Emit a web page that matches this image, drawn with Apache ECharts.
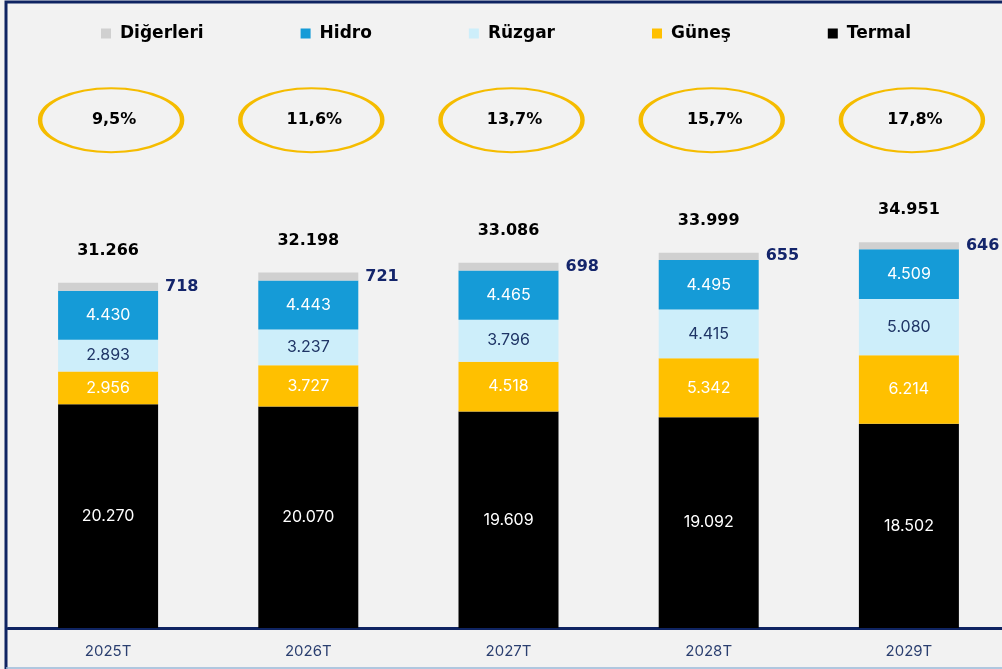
<!DOCTYPE html>
<html>
<head>
<meta charset="utf-8">
<script src="https://cdn.jsdelivr.net/npm/echarts@6/dist/echarts.min.js"></script>
<style>
  html, body { margin: 0; padding: 0; background: #f2f2f2; }
  #chart { width: 1002px; height: 669px; }
</style>
</head>
<body>
<div id="chart"></div>
<script>
// veriler
var years = ['2025T', '2026T', '2027T', '2028T', '2029T'];
var termal = [20270, 20070, 19609, 19092, 18502];
var gunes = [2956, 3727, 4518, 5342, 6214];
var ruzgar = [2893, 3237, 3796, 4415, 5080];
var hidro = [4430, 4443, 4465, 4495, 4509];
var digerleri = [718, 721, 698, 655, 646];
var totals = [31266, 32198, 33086, 33999, 34951];
var shares = ['9,5%', '11,6%', '13,7%', '15,7%', '17,8%'];

var navy = '#0f2462';
var ellipseRow = 92; // gizli eksende elips satiri

// binlik ayirici nokta
function fmt(n) {
    var s = String(n), out = '';
    while (s.length > 3) {
        out = '.' + s.slice(-3) + out;
        s = s.slice(0, s.length - 3);
    }
    return s + out;
}

var chart = echarts.init(document.getElementById('chart'));

function seg(name, data, color, labelColor) {
    return {
        name: name,
        type: 'bar',
        stack: 'total',
        barWidth: 100,
        data: data,
        itemStyle: {color: color},
        label: {
            show: true,
            position: 'inside',
            color: labelColor,
            fontFamily: 'Inter',
            fontSize: 16,
            formatter: function (p) { return fmt(p.value); }
        }
    };
}

var option = {
    backgroundColor: '#f2f2f2',
    animation: false,
    legend: {
        data: ['Diğerleri', 'Hidro', 'Rüzgar', 'Güneş', 'Termal'],
        left: 96,
        top: 20,
        itemWidth: 10,
        itemHeight: 10,
        itemGap: 97,
        icon: 'rect',
        textStyle: {
            color: '#000',
            fontFamily: 'DejaVu Sans',
            fontWeight: 'bold',
            fontSize: 17,
            padding: [0, 0, 0, 4]
        }
    },
    grid: {left: 8, width: 1001, top: 76, bottom: 41, outerBoundsMode: 'none'},
    xAxis: {
        type: 'category',
        data: years,
        axisLine: {lineStyle: {color: navy, width: 3}},
        axisTick: {show: false},
        axisLabel: {color: '#2b3f70', fontFamily: 'Inter', fontSize: 15, margin: 16}
    },
    yAxis: [
        {type: 'value', min: 0, max: 50000, show: false},
        {type: 'value', min: 0, max: 100, show: false}
    ],
    series: [
        seg('Termal', termal, '#000000', '#ffffff'),
        seg('Güneş', gunes, '#ffc000', '#ffffff'),
        seg('Rüzgar', ruzgar, '#cdeefa', '#1f3566'),
        seg('Hidro', hidro, '#159bd7', '#ffffff'),
        {
            name: 'Diğerleri',
            type: 'bar',
            stack: 'total',
            barWidth: 100,
            data: digerleri,
            itemStyle: {color: '#d0d0d0'},
            label: {
                show: true,
                position: 'right',
                distance: 7,
                color: '#14256b',
                fontFamily: 'DejaVu Sans',
                fontWeight: 'bold',
                fontSize: 16
            }
        },
        {
            // toplam etiketi
            name: 'Toplam',
            type: 'bar',
            stack: 'total',
            barWidth: 100,
            data: years.map(function () { return 0; }),
            itemStyle: {color: 'transparent'},
            label: {
                show: true,
                position: 'top',
                distance: 24,
                color: '#000',
                fontFamily: 'DejaVu Sans',
                fontWeight: 'bold',
                fontSize: 16,
                formatter: function (p) { return fmt(totals[p.dataIndex]); }
            }
        },
        {
            name: 'Pay',
            type: 'scatter',
            yAxisIndex: 1,
            data: years.map(function (y) { return [y, ellipseRow]; }),
            symbol: 'path://M0,32C0,14.3 31.8,0 71,0C110.2,0 142,14.3 142,32C142,49.7 110.2,64 71,64C31.8,64 0,49.7 0,32Z',
            symbolSize: [142, 64],
            symbolOffset: [3, 0],
            itemStyle: {color: 'transparent', borderColor: '#f5bc00', borderWidth: 3, opacity: 1},
            label: {
                show: true,
                position: 'inside',
                offset: [3, 0],
                color: '#000',
                textBorderWidth: 0,
                fontFamily: 'DejaVu Sans',
                fontWeight: 'bold',
                fontSize: 16,
                formatter: function (p) { return shares[p.dataIndex]; }
            }
        }
    ],
    graphic: [{
        type: 'rect',
        shape: {x: 6, y: 2, width: 1100, height: 720},
        style: {fill: null, stroke: navy, lineWidth: 3},
        silent: true
    }, {
        type: 'line',
        shape: {x1: 6, y1: 668, x2: 1002, y2: 668},
        style: {stroke: '#9ab8d8', lineWidth: 1.5},
        silent: true
    }]
};

chart.setOption(option);
</script>
</body>
</html>
